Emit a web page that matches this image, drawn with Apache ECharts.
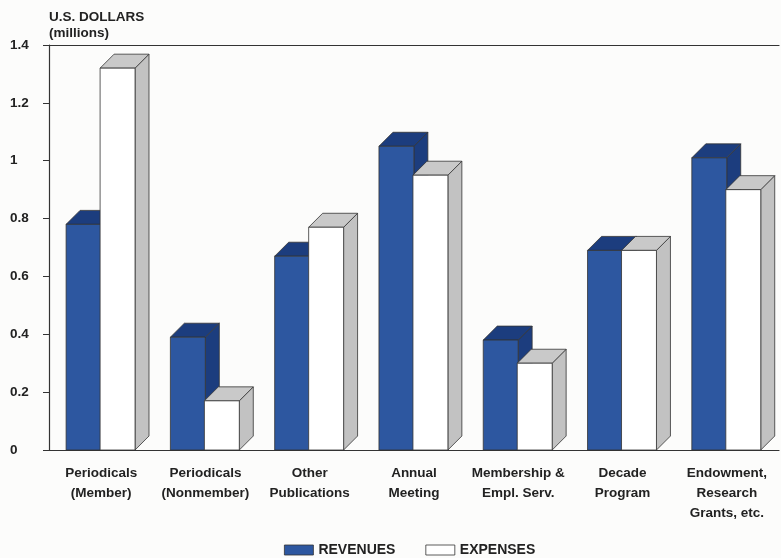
<!DOCTYPE html>
<html>
<head>
<meta charset="utf-8">
<script src="https://cdn.jsdelivr.net/npm/echarts@6/dist/echarts.min.js"></script>
<style>
  html, body { margin: 0; padding: 0; background: #fcfcfb; }
  #chart { width: 781px; height: 558px; }
</style>
</head>
<body>
<div id="chart"></div>
<script>
// Budget by program area, in millions of U.S. dollars
const categories = [
  'Periodicals\n(Member)',
  'Periodicals\n(Nonmember)',
  'Other\nPublications',
  'Annual\nMeeting',
  'Membership &\nEmpl. Serv.',
  'Decade\nProgram',
  'Endowment,\nResearch\nGrants, etc.'
];
const revenues = [0.78, 0.39, 0.67, 1.05, 0.38, 0.69, 1.01];
const expenses = [1.32, 0.17, 0.77, 0.95, 0.30, 0.69, 0.90];

const FONT = '"Liberation Sans", Arial, Helvetica, sans-serif';
const INK = '#222';
const BLUE = '#2d57a0';
const BLUE_DARK = '#1c3d7e';

// Draws a box-shaped bar: front face, top cap and right side face
function boxBar(offset, face, cap, side) {
  return function (params, api) {
    const cat = api.value(0);
    const val = api.value(1);
    const base = api.coord([cat, 0]);
    const top = api.coord([cat, val]);
    const band = api.size([1, 0])[0];
    const w = band * 0.335;
    const d = band * 0.134;
    const x0 = base[0] + offset * band;
    const ty = top[1], by = base[1];
    const line = { stroke: '#333', lineWidth: 0.8 };
    return {
      type: 'group',
      children: [
        {
          type: 'polygon',
          shape: { points: [[x0 + w, ty], [x0 + w + d, ty - d], [x0 + w + d, by - d], [x0 + w, by]] },
          style: Object.assign({ fill: side }, line)
        },
        {
          type: 'polygon',
          shape: { points: [[x0, ty], [x0 + d, ty - d], [x0 + w + d, ty - d], [x0 + w, ty]] },
          style: Object.assign({ fill: cap }, line)
        },
        {
          type: 'rect',
          shape: { x: x0, y: ty, width: w, height: by - ty },
          style: Object.assign({ fill: face }, line)
        }
      ]
    };
  };
}

const chart = echarts.init(document.getElementById('chart'));
chart.setOption({
  backgroundColor: '#fcfcfb',
  animation: false,
  title: {
    text: 'U.S. DOLLARS\n(millions)',
    left: 49,
    top: 9,
    padding: 0,
    textStyle: { fontFamily: FONT, fontWeight: 'bold', fontSize: 13.5, color: INK, lineHeight: 16 }
  },
  legend: {
    top: 543,
    left: 284,
    padding: 0,
    itemWidth: 29,
    itemHeight: 10,
    itemGap: 30,
    icon: 'rect',
    textStyle: { fontFamily: FONT, fontWeight: 'bold', fontSize: 14, color: INK },
    data: [
      { name: 'REVENUES', itemStyle: { color: BLUE, borderColor: '#333', borderWidth: 0.8 } },
      { name: 'EXPENSES', itemStyle: { color: '#ffffff', borderColor: '#333', borderWidth: 0.8 } }
    ]
  },
  grid: { left: 49, right: 2, top: 45, bottom: 108 },
  xAxis: [
    {
      type: 'category',
      data: categories,
      boundaryGap: true,
      axisLine: { lineStyle: { color: '#333', width: 1.2 } },
      axisTick: { alignWithLabel: true, length: 7, lineStyle: { color: '#333' } },
      axisLabel: {
        interval: 0,
        margin: 13,
        fontFamily: FONT,
        fontWeight: 'bold',
        fontSize: 13.5,
        lineHeight: 20,
        color: INK
      }
    },
    {
      type: 'category',
      position: 'top',
      data: categories,
      axisLine: { show: true, lineStyle: { color: '#333', width: 1.2 } },
      axisTick: { show: false },
      axisLabel: { show: false }
    }
  ],
  yAxis: {
    type: 'value',
    min: 0,
    max: 1.4,
    interval: 0.2,
    axisLine: { show: true, lineStyle: { color: '#333', width: 1.2 } },
    axisTick: { show: true, length: 6, lineStyle: { color: '#333' } },
    splitLine: { show: false },
    axisLabel: {
      align: 'left',
      margin: 39,
      fontFamily: FONT,
      fontWeight: 'bold',
      fontSize: 13.5,
      color: INK,
      formatter: function (v) { return String(+v.toFixed(1)); }
    }
  },
  series: [
    {
      name: 'REVENUES',
      type: 'custom',
      itemStyle: { color: BLUE },
      renderItem: boxBar(-0.336, BLUE, BLUE_DARK, BLUE_DARK),
      data: revenues.map((v, i) => [i, v])
    },
    {
      name: 'EXPENSES',
      type: 'custom',
      itemStyle: { color: '#ffffff' },
      renderItem: boxBar(-0.01, '#ffffff', '#c9c9c9', '#c2c2c2'),
      data: expenses.map((v, i) => [i, v])
    }
  ]
});
</script>
</body>
</html>
